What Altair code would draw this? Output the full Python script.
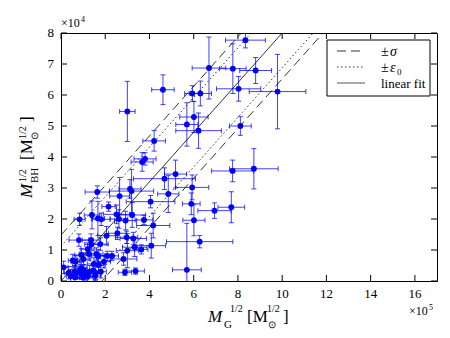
import altair as alt
import pandas as pd

# data (x in 1e5, y in 1e4)
gx = [8.34, 6.69, 7.77, 8.80, 4.61, 5.94, 6.30, 8.03, 9.79, 3.00, 6.01, 5.69, 6.22, 8.11, 4.21, 3.80, 3.67,
      5.18, 4.68, 4.85, 5.93, 7.76, 8.72, 5.89, 6.01, 6.94, 7.70, 6.27, 5.69, 3.37, 2.89, 4.08, 4.17, 4.05,
      3.75, 3.63, 3.33, 3.27, 3.00, 2.97, 3.22, 3.19, 3.12, 2.92, 2.62, 2.51, 2.65, 2.55, 2.83, 2.15, 1.64,
      1.40, 1.67, 1.82, 0.84, 0.81, 1.36, 1.37, 1.78, 2.06, 1.20, 0.92, 1.27, 1.60, 1.67, 2.09, 2.30, 1.94,
      1.49, 1.70, 1.02, 0.53, 0.66, 0.12, 0.35, 0.44, 0.62, 0.63, 0.92, 1.04, 0.92, 1.10, 1.00, 1.19, 1.30,
      1.45, 1.57, 1.55, 1.80, 0.87, 0.77]
gy = [7.77, 6.87, 6.85, 6.79, 6.17, 6.05, 6.05, 6.20, 6.11, 5.47, 5.29, 5.05, 4.85, 5.00, 4.52, 3.94, 3.84,
      3.45, 3.30, 2.81, 3.02, 3.55, 3.62, 2.49, 1.96, 2.27, 2.38, 1.27, 0.36, 0.32, 0.28, 1.14, 1.79, 2.56,
      1.97, 1.02, 1.09, 1.37, 0.98, 1.41, 2.13, 2.90, 2.97, 1.95, 2.00, 2.15, 2.74, 1.54, 0.71, 2.40, 2.87,
      2.13, 2.02, 1.99, 1.99, 1.32, 1.32, 1.18, 1.19, 1.46, 1.03, 0.84, 0.87, 0.87, 0.81, 0.81, 0.81, 0.62,
      0.55, 0.52, 0.71, 0.66, 0.62, 0.44, 0.27, 0.16, 0.30, 0.12, 0.41, 0.33, 0.25, 0.23, 0.11, 0.14, 0.30,
      0.33, 0.25, 0.16, 0.30, 0.33, 0.28]
gxe = [0.90, 0.76, 0.60, 0.72, 0.51, 0.35, 0.50, 1.00, 1.28, 0.35, 0.64, 0.50, 1.03, 0.49, 0.51, 0.50, 0.50,
       0.50, 1.40, 0.48, 0.75, 0.95, 1.10, 0.40, 0.50, 0.75, 0.60, 1.50, 0.65, 0.40, 0.30, 0.65, 0.75, 1.10,
       0.40, 0.30, 0.55, 0.60, 0.50, 0.50, 0.60, 1.00, 0.50, 0.50, 0.40, 0.60, 0.45, 0.40, 0.60, 0.30, 0.55,
       0.35, 0.30, 0.40, 0.25, 0.45, 0.40, 0.30, 0.35, 0.40, 0.30, 0.30, 0.45, 0.30, 0.30, 0.30, 0.30, 0.30,
       0.30, 0.30, 0.30, 0.20, 0.20, 0.20, 0.20, 0.20, 0.20, 0.20, 0.25, 0.25, 0.25, 0.25, 0.25, 0.25, 0.25,
       0.25, 0.25, 0.25, 0.25, 0.25, 0.20]
gye = [0.25, 1.00, 0.80, 0.42, 0.48, 0.25, 0.40, 0.40, 1.20, 0.97, 0.50, 0.70, 0.57, 0.30, 0.33, 0.20, 0.30,
       0.45, 0.35, 0.60, 0.40, 0.35, 0.65, 0.35, 0.50, 0.25, 0.50, 0.20, 1.50, 0.10, 0.10, 0.40, 0.40, 0.20,
       0.15, 0.15, 0.30, 0.20, 0.55, 0.20, 0.40, 0.70, 0.30, 0.30, 0.30, 0.30, 0.60, 0.20, 0.20, 0.15, 0.20,
       0.45, 0.55, 0.20, 0.20, 0.20, 0.20, 0.20, 0.20, 0.30, 0.20, 0.20, 0.20, 0.20, 0.20, 0.15, 0.15, 0.20,
       0.20, 0.20, 0.20, 0.20, 0.20, 0.20, 0.20, 0.20, 0.20, 0.20, 0.20, 0.20, 0.20, 0.20, 0.15, 0.15, 0.20,
       0.20, 0.20, 0.15, 0.20, 0.20, 0.20]

fit_slope = 0.8
sigma = 1.48
eps0 = 1.12
line_x = [0.0, 17.0]

x_ticks = [0, 2, 4, 6, 8, 10, 12, 14, 16]
y_ticks = [0, 1, 2, 3, 4, 5, 6, 7, 8]

W, H = 376, 248
FONT = "Liberation Serif"
BLUE = "#0000ff"

df = pd.DataFrame({"x": gx, "y": gy, "xe": gxe, "ye": gye})
df["xl"] = df.x - df.xe
df["xh"] = df.x + df.xe
df["yl"] = df.y - df.ye
df["yh"] = df.y + df.ye

xs = alt.Scale(domain=[0, 17], nice=False, zero=False)
ys = alt.Scale(domain=[0, 8], nice=False, zero=False)


def X(f):
    return alt.X(f, scale=xs, axis=None)


def Y(f):
    return alt.Y(f, scale=ys, axis=None)


base = alt.Chart(df)
eb = dict(color=BLUE, opacity=0.75, clip=True)
xerr = base.mark_rule(strokeWidth=1, **eb).encode(x=X("xl:Q"), x2="xh:Q", y=Y("y:Q"))
yerr = base.mark_rule(strokeWidth=1, **eb).encode(x=X("x:Q"), y=Y("yl:Q"), y2="yh:Q")
capxl = base.mark_tick(orient="vertical", size=5, thickness=1, **eb).encode(x=X("xl:Q"), y=Y("y:Q"))
capxh = base.mark_tick(orient="vertical", size=5, thickness=1, **eb).encode(x=X("xh:Q"), y=Y("y:Q"))
capyl = base.mark_tick(orient="horizontal", size=5, thickness=1, **eb).encode(x=X("x:Q"), y=Y("yl:Q"))
capyh = base.mark_tick(orient="horizontal", size=5, thickness=1, **eb).encode(x=X("x:Q"), y=Y("yh:Q"))
pts = base.mark_circle(color=BLUE, size=34, opacity=1, clip=True).encode(x=X("x:Q"), y=Y("y:Q"))

rows = []
for name, off in [("fit", 0), ("s+", sigma), ("s-", -sigma), ("e+", eps0), ("e-", -eps0)]:
    for xv in line_x:
        rows.append({"k": name, "lx": xv, "ly": fit_slope * xv + off})
ldf = pd.DataFrame(rows)


def fline(key, dash):
    kw = dict(color="black", strokeWidth=0.8, clip=True)
    if dash:
        kw["strokeDash"] = dash
    return alt.Chart(ldf).transform_filter(alt.datum.k == key).mark_line(**kw).encode(
        x=X("lx:Q"), y=Y("ly:Q"))


lines = [fline("fit", None), fline("s+", [9, 5]), fline("s-", [9, 5]),
         fline("e+", [1.5, 2.5]), fline("e-", [1.5, 2.5])]

# inward ticks and tick labels
xtdf = pd.DataFrame({"t": x_ticks})
ytdf = pd.DataFrame({"t": y_ticks})
tk = dict(color="black", strokeWidth=1)
ticks = [
    alt.Chart(xtdf).mark_rule(**tk).encode(x=X("t:Q"), y=alt.value(H), y2=alt.value(H - 6)),
    alt.Chart(xtdf).mark_rule(**tk).encode(x=X("t:Q"), y=alt.value(0), y2=alt.value(6)),
    alt.Chart(ytdf).mark_rule(**tk).encode(y=Y("t:Q"), x=alt.value(0), x2=alt.value(6)),
    alt.Chart(ytdf).mark_rule(**tk).encode(y=Y("t:Q"), x=alt.value(W), x2=alt.value(W - 6)),
    alt.Chart(xtdf).mark_text(font=FONT, fontSize=13, color="black", align="center",
                              baseline="alphabetic").encode(
        x=X("t:Q"), y=alt.value(H + 17), text=alt.Text("t:Q", format="d")),
    alt.Chart(ytdf).mark_text(font=FONT, fontSize=13, color="black", align="right",
                              baseline="middle").encode(
        y=Y("t:Q"), x=alt.value(-7), text=alt.Text("t:Q", format="d")),
]

one = pd.DataFrame({"a": [0]})


def txt(s, x, y, size, italic=False, angle=0, align="left"):
    kw = dict(font=FONT, fontSize=size, color="black", align=align, baseline="alphabetic")
    if italic:
        kw["fontStyle"] = "italic"
    if angle:
        kw["angle"] = angle
    return alt.Chart(one).mark_text(**kw).encode(x=alt.value(x), y=alt.value(y), text=alt.value(s))


texts = [
    # x title
    txt("M", 147, 289, 17, italic=True),
    txt("G", 163, 295, 11),
    txt("1/2", 169, 279, 10),
    txt("[M", 186, 289, 17),
    txt("⊙", 207, 295, 10),
    txt("1/2", 206, 279, 10),
    txt("]", 222, 289, 17),
    # y title
    txt("M", -29, 165, 17, italic=True, angle=270),
    txt("BH", -23, 150, 11, angle=270),
    txt("1/2", -35, 149, 10, angle=270),
    txt("[M", -29, 127, 17, angle=270),
    txt("⊙", -23, 107, 10, angle=270),
    txt("1/2", -35, 106, 10, angle=270),
    txt("]", -29, 89, 17, angle=270),
    # multipliers
    txt("×10", 0, -6, 12),
    txt("4", 20, -11, 8),
    txt("×10", 348, 282, 12),
    txt("5", 368, 277, 8),
]

# manual legend
box = alt.Chart(one).mark_rect(fill="white", stroke="black", strokeWidth=1).encode(
    x=alt.value(266), x2=alt.value(369), y=alt.value(7), y2=alt.value(63))
leg = [
    box,
    alt.Chart(one).mark_rule(color="black", strokeWidth=0.8, strokeDash=[9, 5]).encode(
        x=alt.value(276), x2=alt.value(304), y=alt.value(18)),
    alt.Chart(one).mark_rule(color="black", strokeWidth=0.8, strokeDash=[1.5, 2.5]).encode(
        x=alt.value(276), x2=alt.value(304), y=alt.value(34)),
    alt.Chart(one).mark_rule(color="#555555", strokeWidth=1).encode(
        x=alt.value(276), x2=alt.value(304), y=alt.value(50)),
    txt("±", 320, 23, 14),
    txt("σ", 329, 23, 14, italic=True),
    txt("±", 320, 39, 14),
    txt("ε", 329, 39, 14, italic=True),
    txt("0", 336, 42, 9),
    txt("linear fit", 320, 55, 13),
]

chart = alt.layer(xerr, yerr, capxl, capxh, capyl, capyh, pts, *lines, *ticks, *leg, *texts).properties(
    width=W, height=H,
    padding={"left": 53, "top": 25, "right": 5, "bottom": 52},
    autosize=alt.AutoSizeParams(type="none"),
).configure_view(stroke="black", strokeWidth=1)

chart.save("out.html", embed_options={"renderer": "svg", "actions": False})
